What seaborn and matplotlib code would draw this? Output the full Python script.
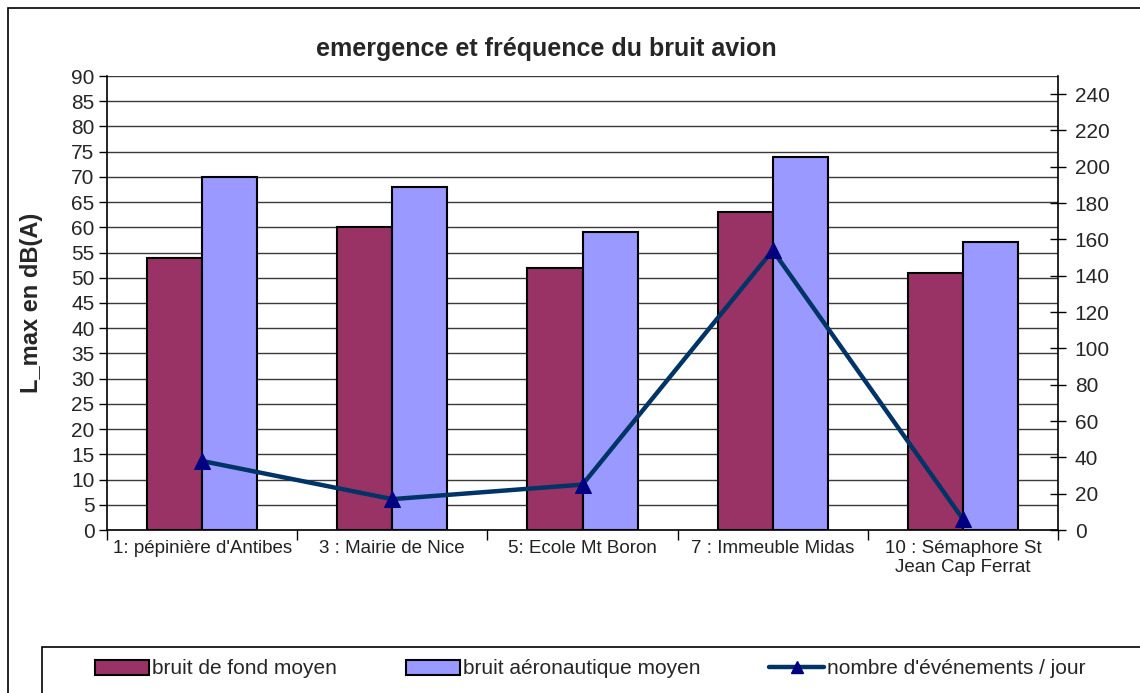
import numpy as np
import pandas as pd
import matplotlib
matplotlib.use("Agg")
import matplotlib.pyplot as plt
from matplotlib.patches import Patch, Rectangle
from matplotlib.lines import Line2D
from matplotlib.ticker import MultipleLocator, FixedLocator
import seaborn as sns

# data
sites = ["1: pépinière d'Antibes", "3 : Mairie de Nice", "5: Ecole Mt Boron",
         "7 : Immeuble Midas", "10 : Sémaphore St\nJean Cap Ferrat"]
bruit_fond = [54, 60, 52, 63, 51]
bruit_aero = [70, 68, 59, 74, 57]
evenements = [38, 17, 25, 154, 6]

serie_names = ["bruit de fond moyen", "bruit aéronautique moyen"]
line_name = "nombre d'événements / jour"
colors = ["#993366", "#9999FF"]
line_color = "#003366"
marker_color = "#000080"

df = pd.DataFrame({
    "site": sites * 2,
    "value": bruit_fond + bruit_aero,
    "serie": [serie_names[0]] * len(sites) + [serie_names[1]] * len(sites),
})

sns.set_theme(style="white")
plt.rcParams["font.family"] = ["Liberation Sans", "DejaVu Sans"]

fig = plt.figure(figsize=(11.4, 6.93), dpi=100)
ax = fig.add_axes([107 / 1140, 1 - 530 / 693, (1058 - 107) / 1140, (530 - 76) / 693])

sns.barplot(data=df, x="site", y="value", hue="serie", palette=colors,
            saturation=1, width=0.58, edgecolor="black", linewidth=1.5,
            legend=False, ax=ax)

ax.set_ylim(0, 90)
ax.yaxis.set_major_locator(MultipleLocator(5))
ax.set_xlim(-0.5, len(sites) - 0.5)
ax.yaxis.grid(True, color="#3a3a3a", linewidth=1)
ax.set_axisbelow(True)
ax.set_xlabel("")
ax.set_ylabel("L_max en dB(A)", fontsize=17, fontweight="bold", labelpad=20)
ax.tick_params(axis="y", labelsize=15, left=True, length=6, width=1, color="black", pad=3)
ax.tick_params(axis="x", labelsize=13.5, length=0, pad=7)
ax.xaxis.set_minor_locator(FixedLocator(np.arange(-0.5, len(sites), 1.0)))
ax.tick_params(axis="x", which="minor", bottom=True, length=7, width=1, color="black")
for lbl in ax.get_xticklabels():
    lbl.set_color("#222222")
for s in ["left", "bottom"]:
    ax.spines[s].set_color("black")
    ax.spines[s].set_linewidth(1.2)
ax.spines["top"].set_visible(False)
ax.spines["right"].set_visible(False)

ax2 = ax.twinx()
sns.lineplot(x=np.arange(len(sites)), y=evenements, ax=ax2, color=line_color,
             linewidth=3.2, marker="^", markersize=11,
             markerfacecolor=marker_color, markeredgecolor=marker_color)
ax2.set_ylim(0, 250)
ax2.set_xlim(-0.5, len(sites) - 0.5)
ax2.set_yticks(np.arange(0, 241, 20))
ax2.tick_params(axis="y", labelsize=15, right=True, direction="inout",
                length=12, width=1, color="black", pad=6)
ax2.spines["right"].set_color("black")
ax2.spines["right"].set_linewidth(1.2)
ax2.spines["top"].set_visible(False)
ax2.spines["left"].set_visible(False)
ax2.spines["bottom"].set_visible(False)
ax2.set_ylabel("")

fig.text(546 / 1140, 1 - 49 / 693, "emergence et fréquence du bruit avion",
         ha="center", va="center", fontsize=18, fontweight="bold")

# outer chart border and legend box
fig.add_artist(Rectangle((8 / 1140, -0.05), 1.2, 1.05 - 8 / 693,
                         transform=fig.transFigure, fill=False,
                         edgecolor="black", linewidth=1.2))
fig.add_artist(Rectangle((42 / 1140, -0.05), 1.2, 0.05 + 1 - 647 / 693,
                         transform=fig.transFigure, fill=False,
                         edgecolor="black", linewidth=1.2))

handles = [Patch(facecolor=colors[0], edgecolor="black", linewidth=1.5),
           Patch(facecolor=colors[1], edgecolor="black", linewidth=1.5),
           Line2D([], [], color=line_color, linewidth=3.2, marker="^",
                  markersize=9, markerfacecolor=marker_color,
                  markeredgecolor=marker_color)]
fig.legend(handles, serie_names + [line_name], loc="center left",
           bbox_to_anchor=(95 / 1140, 1 - 669 / 693), ncol=3, fontsize=15,
           frameon=False, handlelength=2.6, handletextpad=0.15,
           borderaxespad=0, borderpad=0, columnspacing=3.3)

fig.savefig("out.png", dpi=100)
